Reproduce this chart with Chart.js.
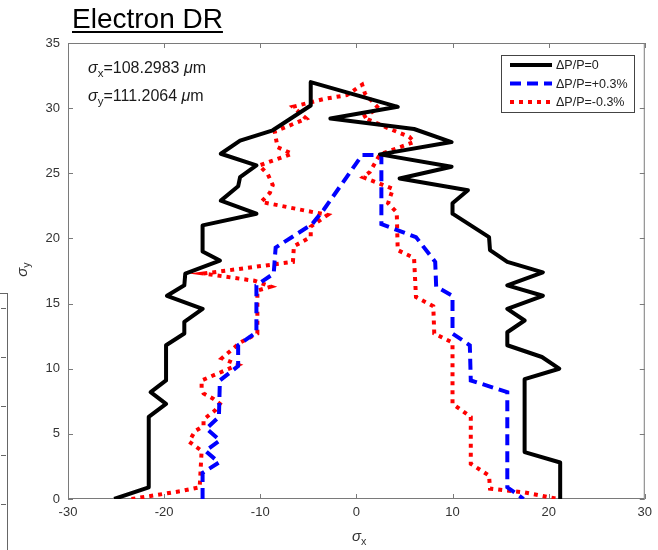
<!DOCTYPE html>
<html>
<head>
<meta charset="utf-8">
<script src="https://cdn.jsdelivr.net/npm/chart.js@4/dist/chart.umd.min.js"></script>
<style>
  body { margin: 0; background: #fff; }
  #wrap { position: relative; width: 658px; height: 550px; font-family: "Liberation Sans", Arial, sans-serif; }
  #wrap canvas { position: absolute; left: 0; top: 0; }
  .lbl { position: absolute; white-space: nowrap; color: #1a1a1a; }
  .lbl i { font-style: italic; }
  .lbl sub { font-size: 0.72em; vertical-align: -0.35em; line-height: 0; }
  #title { left: 72px; top: 3px; font-size: 28px; color: #000; text-decoration: underline; text-decoration-thickness: 2px; text-underline-offset: 3px; }
  #sx { left: 88px; top: 60px; font-size: 16px; line-height: 16px; }
  #sy { left: 88px; top: 88px; font-size: 16px; line-height: 16px; }
  #xt { left: 352px; top: 528px; font-size: 15px; line-height: 15px; color: #333; }
  #yt { left: 14px; top: 262px; font-size: 15px; line-height: 15px; color: #333; transform: rotate(-90deg); transform-origin: center; }
  #edge { position: absolute; left: -2px; top: 293px; width: 9px; height: 260px; border-top: 1px solid #666; border-right: 1px solid #666; }
  .etk { position: absolute; left: 3px; width: 5px; height: 1px; background: #666; }
</style>
</head>
<body>
<div id="wrap">
  <canvas id="chart" width="658" height="550"></canvas>
  <div id="edge">
    <div class="etk" style="top:14px"></div>
    <div class="etk" style="top:63px"></div>
    <div class="etk" style="top:112px"></div>
    <div class="etk" style="top:161px"></div>
    <div class="etk" style="top:210px"></div>
  </div>
  <div class="lbl" id="title">Electron DR</div>
  <div class="lbl" id="sx"><i>σ</i><sub>x</sub>=108.2983 <i>μ</i>m</div>
  <div class="lbl" id="sy"><i>σ</i><sub>y</sub>=111.2064 <i>μ</i>m</div>
  <div class="lbl" id="xt"><i>σ</i><sub>x</sub></div>
  <div class="lbl" id="yt"><i>σ</i><sub>y</sub></div>
</div>
<script>
// ΔP/P=0
const blackX = [-25.2, -21.6, -21.6, -19.8, -21.4, -19.8, -19.8, -17.9, -17.9, -16.0, -19.7, -17.9, -17.8, -14.2, -16.0, -16.0, -10.4, -14.1, -12.3, -12.1, -10.4, -14.1, -12.1, -8.7, -4.75, -4.75, 4.3, -2.7, 6.0, 9.9, 2.45, 9.9, 4.5, 11.6, 10.0, 10.0, 13.8, 13.9, 15.7, 19.4, 15.7, 19.4, 15.7, 17.5, 15.7, 15.7, 19.3, 21.1, 17.5, 17.5, 21.2, 21.2];
const blackY = [0, 0.9, 6.3, 7.3, 8.2, 9.1, 11.8, 12.7, 13.6, 14.6, 15.6, 16.4, 17.3, 18.3, 19.0, 21.0, 21.9, 22.9, 24.0, 24.7, 25.6, 26.5, 27.5, 28.3, 30.2, 32.0, 30.1, 29.2, 28.4, 27.4, 26.45, 25.5, 24.6, 23.7, 22.7, 21.9, 20.1, 19.1, 18.2, 17.4, 16.4, 15.6, 14.6, 13.7, 12.8, 11.8, 10.9, 10.0, 9.2, 3.6, 2.8, 0];

// ΔP/P=+0.3%
const blueX = [-16.0, -16.0, -14.3, -15.7, -14.2, -15.6, -14.3, -14.2, -12.3, -12.3, -10.4, -10.4, -8.6, -8.4, -4.6, -3.4, 0.6, 2.6, 2.6, 6.2, 8.2, 8.3, 10.0, 10.0, 11.8, 11.9, 15.7, 15.7, 17.4];
const blueY = [0, 2.0, 2.8, 3.7, 4.5, 5.4, 6.3, 9.1, 10.2, 11.8, 12.8, 16.4, 17.3, 19.3, 21.1, 22.2, 26.4, 26.4, 21.1, 20.1, 18.2, 16.3, 15.6, 12.7, 11.8, 9.1, 8.2, 0.9, 0];

// ΔP/P=-0.3%
const redX = [-23.4, -18.3, -16.3, -16.1, -17.4, -16.8, -15.9, -15.9, -14.7, -14.2, -14.9, -15.9, -16.1, -16.1, -12.3, -14.0, -12.1, -10.3, -10.3, -8.9, -10.6, -15.9, -6.6, -6.5, -4.75, -4.75, -3.0, -9.9, -9.0, -8.7, -9.2, -10.1, -6.7, -8.2, -8.5, -5.2, -6.6, -3.4, -1.0, 0.6, 0.9, 2.3, 0.7, 3.5, 5.5, 6.0, 2.45, 1.4, 0.7, 3.8, 3.3, 4.2, 4.3, 6.0, 6.2, 8.0, 8.1, 10.0, 10.0, 11.9, 11.9, 13.8, 13.9, 17.5, 21.0];
const redY = [0, 0.6, 0.9, 3.7, 4.4, 5.2, 5.6, 6.1, 6.8, 7.3, 7.7, 8.1, 8.5, 9.1, 10.3, 10.8, 12.0, 12.7, 16.0, 16.3, 16.75, 17.3, 18.2, 19.4, 20.1, 20.9, 21.8, 22.8, 23.5, 24.1, 24.9, 25.6, 26.5, 27.0, 28.2, 29.2, 30.1, 30.7, 31.0, 31.8, 31.1, 30.0, 29.3, 28.4, 27.8, 27.4, 26.45, 25.1, 24.7, 23.8, 22.7, 22.0, 19.1, 18.5, 15.5, 14.8, 12.7, 12.0, 7.3, 6.3, 2.7, 1.8, 0.8, 0.5, 0];

const seriesLabels = ['ΔP/P=0', 'ΔP/P=+0.3%', 'ΔP/P=-0.3%'];
const xTicks = [-30, -20, -10, 0, 10, 20, 30];
const yTicks = [0, 5, 10, 15, 20, 25, 30, 35];

function pts(xs, ys) {
    return xs.map((x, i) => ({ x: x, y: ys[i] }));
}

const axisColor = '#7a7a7a';

// рамка и внутренние засечки как в MATLAB
const boxPlugin = {
    id: 'box',
    beforeDatasetsDraw(chart) {
        const { ctx, chartArea: a, scales } = chart;
        ctx.save();
        ctx.strokeStyle = axisColor;
        ctx.lineWidth = 1;
        ctx.strokeRect(a.left + 0.5, a.top + 0.5, a.right - a.left - 1, a.bottom - a.top - 1);
        ctx.beginPath();
        xTicks.forEach(v => {
            const px = Math.round(scales.x.getPixelForValue(v)) + 0.5;
            ctx.moveTo(px, a.bottom); ctx.lineTo(px, a.bottom - 5);
            ctx.moveTo(px, a.top); ctx.lineTo(px, a.top + 5);
        });
        yTicks.forEach(v => {
            const py = Math.round(scales.y.getPixelForValue(v)) + 0.5;
            ctx.moveTo(a.left, py); ctx.lineTo(a.left + 5, py);
            ctx.moveTo(a.right, py); ctx.lineTo(a.right - 5, py);
        });
        ctx.stroke();
        ctx.restore();
    }
};

// легенда в правом верхнем углу
const legendPlugin = {
    id: 'boxLegend',
    afterDatasetsDraw(chart) {
        const ctx = chart.ctx;
        const x0 = 501, y0 = 55, w = 133, h = 57;
        ctx.save();
        ctx.fillStyle = '#fff';
        ctx.fillRect(x0, y0, w, h);
        ctx.strokeStyle = '#444';
        ctx.lineWidth = 1;
        ctx.strokeRect(x0 + 0.5, y0 + 0.5, w, h);
        ctx.font = '12.5px "Liberation Sans", Arial, sans-serif';
        ctx.textBaseline = 'middle';
        chart.data.datasets.forEach((ds, i) => {
            const y = y0 + 10 + i * 18.5;
            ctx.beginPath();
            ctx.strokeStyle = ds.borderColor;
            ctx.lineWidth = ds.borderWidth;
            ctx.setLineDash(ds.borderDash || []);
            ctx.moveTo(510, y);
            ctx.lineTo(552, y);
            ctx.stroke();
            ctx.setLineDash([]);
            ctx.fillStyle = '#222';
            ctx.fillText(ds.label, 556, y + 1);
        });
        ctx.restore();
    }
};

const ctx = document.getElementById('chart').getContext('2d');
new Chart(ctx, {
    type: 'scatter',
    data: {
        datasets: [
            { label: seriesLabels[0], data: pts(blackX, blackY), borderColor: '#000000', borderWidth: 4, borderJoinStyle: 'round' },
            { label: seriesLabels[1], data: pts(blueX, blueY), borderColor: '#0000ff', borderWidth: 4, borderDash: [11, 6] },
            { label: seriesLabels[2], data: pts(redX, redY), borderColor: '#ff0000', borderWidth: 4, borderDash: [4, 5] }
        ]
    },
    options: {
        responsive: false,
        animation: false,
        showLine: true,
        elements: {
            point: { radius: 0, hoverRadius: 0 },
            line: { tension: 0, fill: false, borderCapStyle: 'butt' }
        },
        layout: { autoPadding: false, padding: { left: 0, top: 43, right: 7, bottom: 0 } },
        plugins: { legend: { display: false }, tooltip: { enabled: false } },
        scales: {
            x: {
                type: 'linear', min: -30, max: 30,
                afterFit: s => { s.height = 51; },
                afterBuildTicks: s => { s.ticks = xTicks.map(v => ({ value: v })); },
                grid: { display: false, drawTicks: false },
                border: { display: false },
                ticks: { color: '#333', font: { size: 13, family: '"Liberation Sans", Arial' }, padding: 6, maxRotation: 0 }
            },
            y: {
                type: 'linear', min: 0, max: 35,
                afterFit: s => { s.width = 68; },
                afterBuildTicks: s => { s.ticks = yTicks.map(v => ({ value: v })); },
                grid: { display: false, drawTicks: false },
                border: { display: false },
                ticks: { color: '#333', font: { size: 13, family: '"Liberation Sans", Arial' }, padding: 8 }
            }
        }
    },
    plugins: [boxPlugin, legendPlugin]
});
</script>
</body>
</html>
